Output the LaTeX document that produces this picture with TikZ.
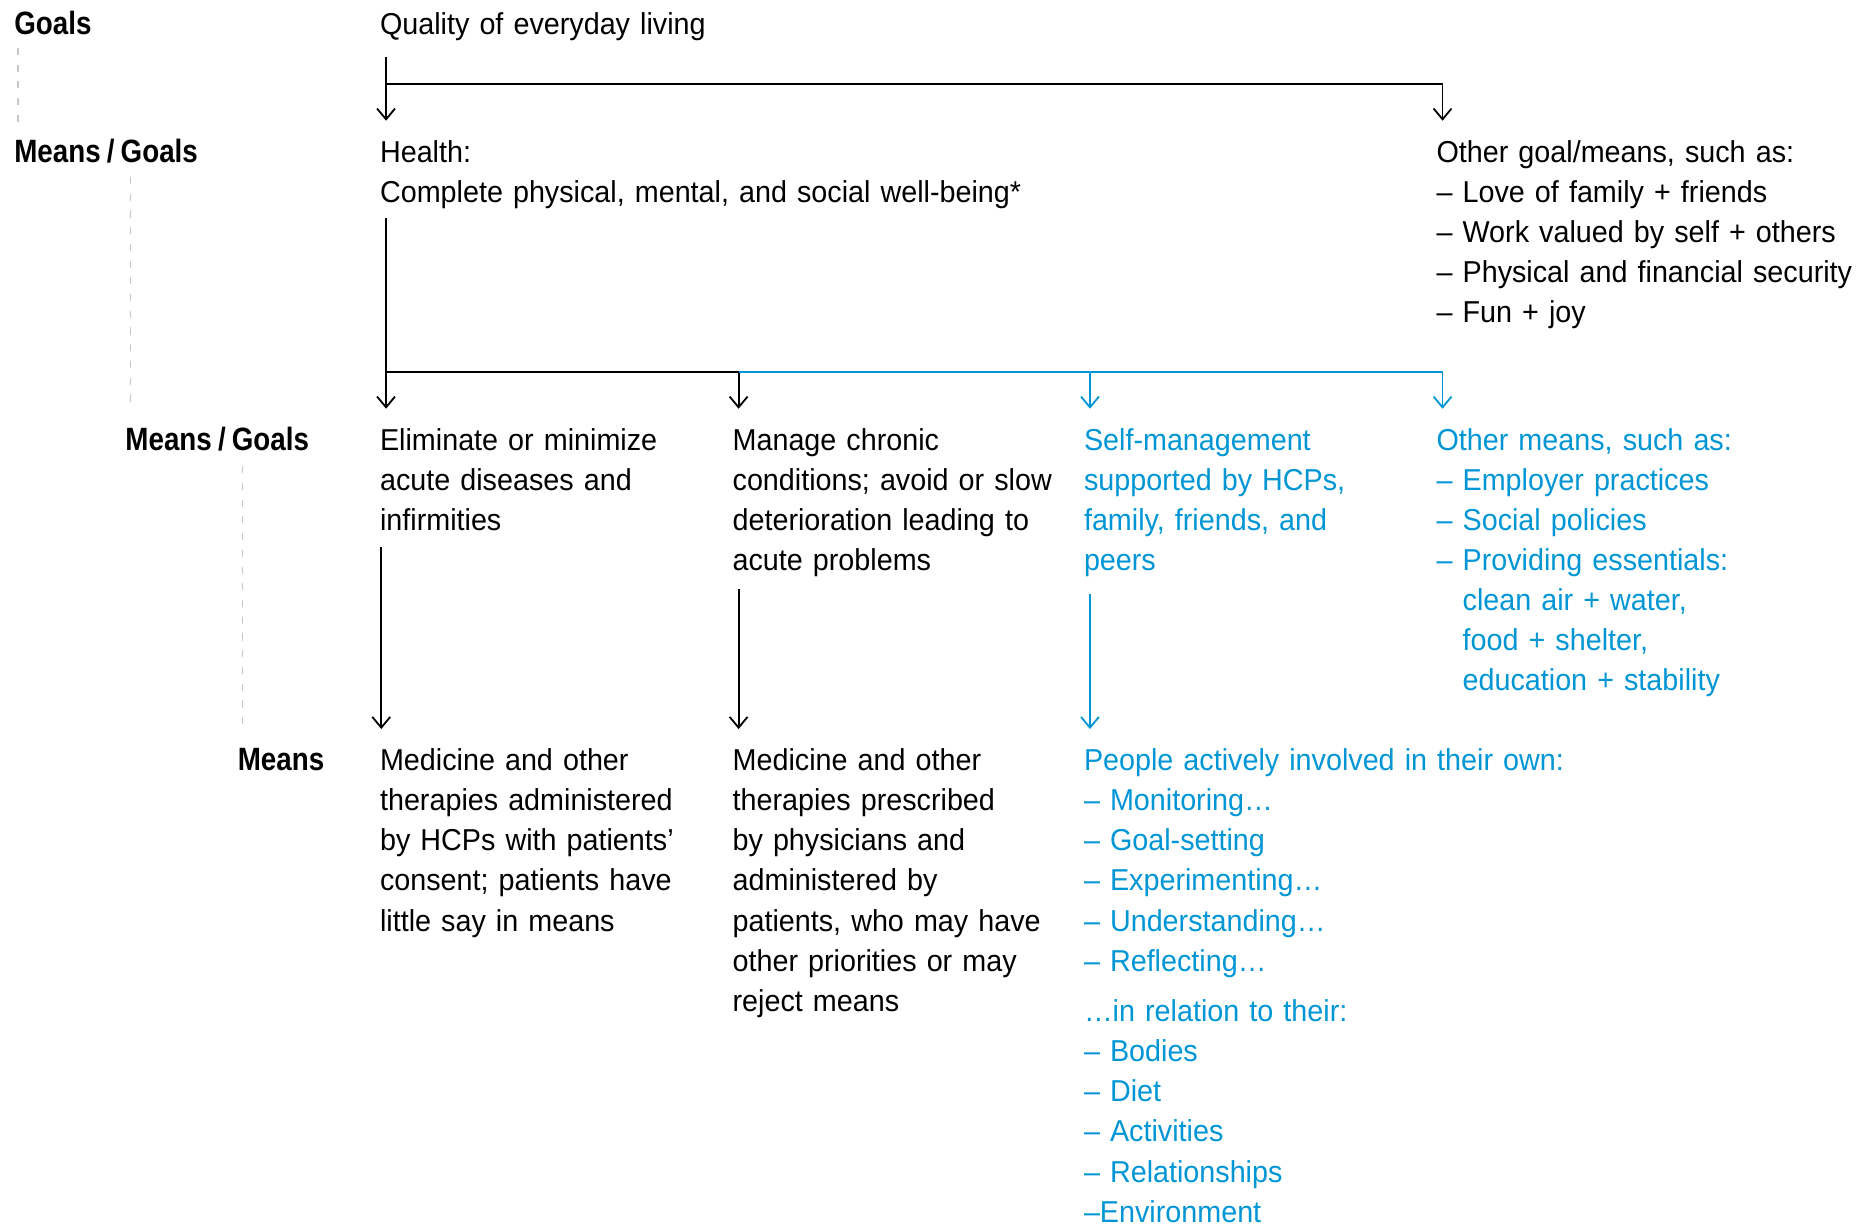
\documentclass[tikz,border=0pt]{standalone}
\usepackage{fontspec}
\setmainfont{Liberation Sans}[FakeStretch=0.95, WordSpace=0.8]
\newfontfamily\lblfont{Liberation Sans}[FakeStretch=0.86, WordSpace=0.8]
\usetikzlibrary{arrows.meta}
\definecolor{hblue}{RGB}{0,150,214}
\definecolor{dashgray}{RGB}{200,200,200}
\begin{document}
\begin{tikzpicture}[x=1pt,y=-1pt,
  every node/.style={inner sep=0pt, outer sep=0pt},
  txt/.style={anchor=base west, align=left, font=\fontsize{25.3}{33.5}\selectfont, text width=#1},
  txt/.default=300pt,
  lbl/.style={anchor=base west, font=\fontsize{27}{33.5}\lblfont\bfseries},
  conn/.style={line width=1.5pt, draw=black},
  arr/.style={conn, -{Straight Barb[length=9pt,width=15pt]}},
  bconn/.style={conn, draw=hblue},
  barr/.style={arr, draw=hblue},
  guide/.style={draw=dashgray, line width=1.1pt, dash pattern=on 6pt off 8pt}]
\useasboundingbox (0,0) rectangle (1568,1025);

% level labels
\node[lbl] (g0) at (12,29) {Goals};
\node[lbl] (g1) at (12,136) {Means / Goals};
\node[lbl] (g2) at (105,377) {Means / Goals};
\node[lbl] (g3) at (199,645) {Means};

% texts
\node[txt=400pt] (quality) at (318,29) {Quality of everyday living};
\node[txt=600pt] (health) at (318,136) {Health:\\Complete physical, mental, and social well-being*};
\node[txt=370pt] (other) at (1202,136) {Other goal/means, such as:\\– Love of family + friends\\– Work valued by self + others\\– Physical and financial security\\– Fun + joy};
\node[txt=280pt] (acute) at (318,377) {Eliminate or minimize\\acute diseases and\\infirmities};
\node[txt=280pt] (chronic) at (613,377) {Manage chronic\\conditions; avoid or slow\\deterioration leading to\\acute problems};
\node[txt=280pt, text=hblue] (selfm) at (907,377) {Self-management\\supported by HCPs,\\family, friends, and\\peers};
\node[txt=360pt, text=hblue] (othermeans) at (1202,377) {Other means, such as:\\– Employer practices\\– Social policies\\– Providing essentials:\\\phantom{–}\ clean air + water,\\\phantom{–}\ food + shelter,\\\phantom{–}\ education + stability};
\node[txt=280pt] (med1) at (318,645) {Medicine and other\\therapies administered\\by HCPs with patients’\\consent; patients have\\little say in means};
\node[txt=280pt] (med2) at (613,645) {Medicine and other\\therapies prescribed\\by physicians and\\administered by\\patients, who may have\\other priorities or may\\reject means};
\node[txt=450pt, text=hblue] (people) at (907,645) {People actively involved in their own:\\– Monitoring…\\– Goal-setting\\– Experimenting…\\– Understanding…\\– Reflecting…};
\node[txt=450pt, text=hblue] (relation) at (907,855) {…in relation to their:\\– Bodies\\– Diet\\– Activities\\– Relationships\\–Environment};

% dashed guides
\coordinate (u0) at (15,40);  \coordinate (u1) at (15,102);
\coordinate (v0) at (109,148); \coordinate (v1) at (109,343);
\coordinate (w0) at (203,390); \coordinate (w1) at (203,610);
\draw[guide] (u0) -- (u1);
\draw[guide] (v0) -- (v1);
\draw[guide] (w0) -- (w1);

% top connector
\coordinate (a0) at (323,48);
\coordinate (a1) at (323,70);
\coordinate (a2) at (323,101);
\coordinate (a3) at (1207,101);
\draw[arr] (a0) -- (a2);
\draw[arr] (a1) -| (a3);

% health connector
\coordinate (b0) at (323,182);
\coordinate (b1) at (323,311);
\coordinate (b2) at (323,342);
\coordinate (c2) at (618,342);
\coordinate (d2) at (912,342);
\coordinate (e2) at (1207,342);
\draw[arr] (b0) -- (b2);
\draw[conn] (b1) -- (b1 -| c2);
\draw[arr] (b1 -| c2) -- (c2);
\draw[barr] (b1 -| c2) -| (e2);
\draw[barr] (b1 -| d2) -- (d2);

% lower connectors
\coordinate (p0) at (319,458); \coordinate (p1) at (319,610);
\coordinate (q0) at (618,493); \coordinate (q1) at (618,610);
\coordinate (r0) at (912,497); \coordinate (r1) at (912,610);
\draw[arr] (p0) -- (p1);
\draw[arr] (q0) -- (q1);
\draw[barr] (r0) -- (r1);
\end{tikzpicture}
\end{document}
